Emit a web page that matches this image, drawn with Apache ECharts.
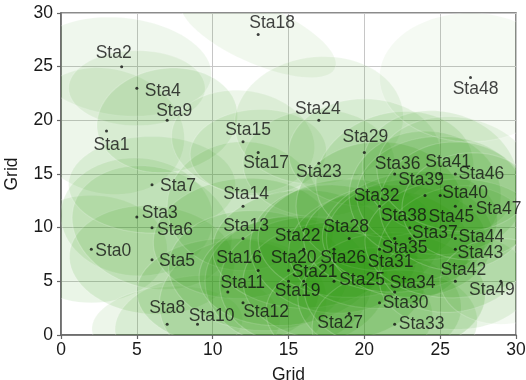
<!DOCTYPE html>
<html>
<head>
<meta charset="utf-8">
<script src="https://cdn.jsdelivr.net/npm/echarts@6/dist/echarts.min.js"></script>
<style>
  html, body { margin: 0; padding: 0; background: #fff; }
  #chart { width: 526px; height: 380px; }
</style>
</head>
<body>
<div id="chart"></div>
<script>
// Station names and grid positions
const stationNames = [
  'Sta0','Sta1','Sta2','Sta3','Sta4','Sta5','Sta6','Sta7','Sta8','Sta9',
  'Sta10','Sta11','Sta12','Sta13','Sta14','Sta15','Sta16','Sta17','Sta18','Sta19',
  'Sta20','Sta21','Sta22','Sta23','Sta24','Sta25','Sta26','Sta27','Sta28','Sta29',
  'Sta30','Sta31','Sta32','Sta33','Sta34','Sta35','Sta36','Sta37','Sta38','Sta39',
  'Sta40','Sta41','Sta42','Sta43','Sta44','Sta45','Sta46','Sta47','Sta48','Sta49'
];
const stationX = [2,3,4,5,5,6,6,6,7,7, 9,11,12,12,12,12,13,13,13,15, 15,16,16,17,17,18,18,19,19,20,
                  21,21,21,22,22,22,22,23,23,24, 25,25,26,26,26,26,26,27,27,29];
const stationY = [8,19,25,11,23,7,10,14,1,20, 1,4,3,9,12,18,6,17,28,5, 6,5,8,16,20,5,8,2,9,17,
                  3,8,12,1,4,9,15,9,10,13, 13,15,5,8,9,12,15,12,24,5];

// Coverage ellipse of each station (half-axes in grid units, tilt in degrees, opacity)
const coverRx = [5,5,6,5,4.5,5.5,5,5.5,5,4.5, 5.5,6,5.5,6,5,4.5,6,4.5,6,5.5, 6,5.5,6,5,5.5,6,5.5,5.5,6,5,
                 5.5,6,5.5,5.5,6,6,5,5.5,6,5, 5.5,5,5,5,6,5,5,4.5,6,4];
const coverRy = [5,6,4.5,5.5,3.5,5,6,4.5,3.5,5, 4.5,5,6,5.5,6,5,5.5,4,2.5,6, 5,6,5.5,5,6,5.5,6,5,5.5,5,
                 5,5.5,6,5,5.5,5,6,5.5,5,6, 5.5,6,4.5,6,5.5,6,5.5,5,6,4];
const coverTilt = [0,20,-15,10,0,-20,30,0,10,-30, 15,0,-10,25,0,40,-25,10,-35,0, 20,-15,0,30,-20,0,15,-10,0,25,
                   -30,10,0,20,-15,0,-25,10,30,0, -10,20,0,-20,15,0,35,-10,0,20];
const coverAlpha = [0.1,0.09,0.08,0.11,0.09,0.12,0.12,0.1,0.09,0.11, 0.1,0.15,0.12,0.15,0.12,0.09,0.15,0.1,0.07,0.16,
                    0.16,0.16,0.16,0.1,0.09,0.18,0.18,0.12,0.18,0.1, 0.15,0.18,0.18,0.12,0.17,0.18,0.12,0.18,0.18,0.15,
                    0.15,0.11,0.1,0.12,0.14,0.14,0.09,0.09,0.05,0.06];

// Label placement around each dot (pixel shift of the label centre)
const labelShift = [
  [22,2],[5,14],[-8,-13],[23,-4],[26,3],[25,1],[23,3],[26,1],[0,-16],[7,-9],
  [14,-8],[15,-9],[23,9],[3,-12],[3,-12],[5,-12],[-19,-12],[8,11],[14,-11],[9,10],
  [5,-12],[11,-9],[-6,-13],[0,9],[-1,-11],[28,-1],[9,9],[-9,10],[-3,-11],[1,-15],
  [26,0],[11,13],[-3,-10],[27,0],[18,-9],[10,10],[3,-10],[25,-5],[-6,-11],[-4,-15],
  [25,-2],[8,-12],[8,-11],[25,4],[26,-1],[-4,11],[26,0],[28,3],[5,12],[-9,9]
];

const xTicks = [0, 5, 10, 15, 20, 25, 30];
const yTicks = [0, 5, 10, 15, 20, 25, 30];
const FONT = '"Liberation Sans", Arial, Helvetica, sans-serif';
const DOT = 3;

const ellipseData = stationNames.map((n, i) => [stationX[i], stationY[i], coverRx[i], coverRy[i], coverTilt[i], coverAlpha[i]]);
const pointData = stationNames.map((n, i) => ({
  name: n,
  value: [stationX[i], stationY[i]],
  label: { position: [DOT / 2 + labelShift[i][0], DOT / 2 + labelShift[i][1]] }
}));

const chart = echarts.init(document.getElementById('chart'), null, { renderer: 'canvas' });

const axisCommon = {
  type: 'value',
  min: xTicks[0], max: xTicks[xTicks.length - 1], interval: 5,
  nameLocation: 'middle',
  nameTextStyle: { fontFamily: FONT, fontSize: 17.5, color: '#1a1a1a' },
  axisLine: { show: true, lineStyle: { color: '#666', width: 1.5 } },
  axisTick: { show: true, inside: false, length: 4, lineStyle: { color: '#666', width: 1.2 } },
  axisLabel: { fontFamily: FONT, fontSize: 17.5, color: '#1a1a1a' },
  splitLine: { show: true, lineStyle: { color: '#c6c6c6', width: 1 } }
};

chart.setOption({
  animation: false,
  backgroundColor: '#ffffff',
  grid: {
    left: 61, right: 10, top: 13, bottom: 45,
    show: true, borderColor: '#666', borderWidth: 1.5,
    containLabel: false, outerBoundsMode: 'none'
  },
  xAxis: Object.assign({}, axisCommon, {
    name: 'Grid', nameGap: 31,
    axisLabel: Object.assign({}, axisCommon.axisLabel, { margin: 6 })
  }),
  yAxis: Object.assign({}, axisCommon, {
    min: yTicks[0], max: yTicks[yTicks.length - 1],
    name: 'Grid', nameGap: 40, nameRotate: 90,
    axisLabel: Object.assign({}, axisCommon.axisLabel, { margin: 8 })
  }),
  series: [
    {
      type: 'custom',
      clip: true,
      silent: true,
      data: ellipseData,
      renderItem: function (params, api) {
        const cx = api.value(0), cy = api.value(1);
        const a = api.value(2), b = api.value(3);
        const t = api.value(4) * Math.PI / 180;
        const alpha = api.value(5);
        const pts = [];
        for (let k = 0; k < 72; k++) {
          const p = k / 72 * Math.PI * 2;
          const dx = a * Math.cos(p) * Math.cos(t) - b * Math.sin(p) * Math.sin(t);
          const dy = a * Math.cos(p) * Math.sin(t) + b * Math.sin(p) * Math.cos(t);
          pts.push(api.coord([cx + dx, cy + dy]));
        }
        return {
          type: 'polygon',
          shape: { points: pts },
          style: {
            fill: 'rgba(50,155,20,' + alpha + ')',
            stroke: 'rgba(255,255,255,0.18)',
            lineWidth: 1.2
          }
        };
      },
      z: 1
    },
    {
      type: 'scatter',
      data: pointData,
      symbol: 'circle',
      symbolSize: DOT,
      itemStyle: { color: '#111' },
      label: {
        show: true,
        formatter: '{b}',
        align: 'center',
        verticalAlign: 'middle',
        fontFamily: FONT,
        fontSize: 17.5,
        color: '#111'
      },
      labelLayout: { hideOverlap: false },
      z: 3
    }
  ]
});
</script>
</body>
</html>
